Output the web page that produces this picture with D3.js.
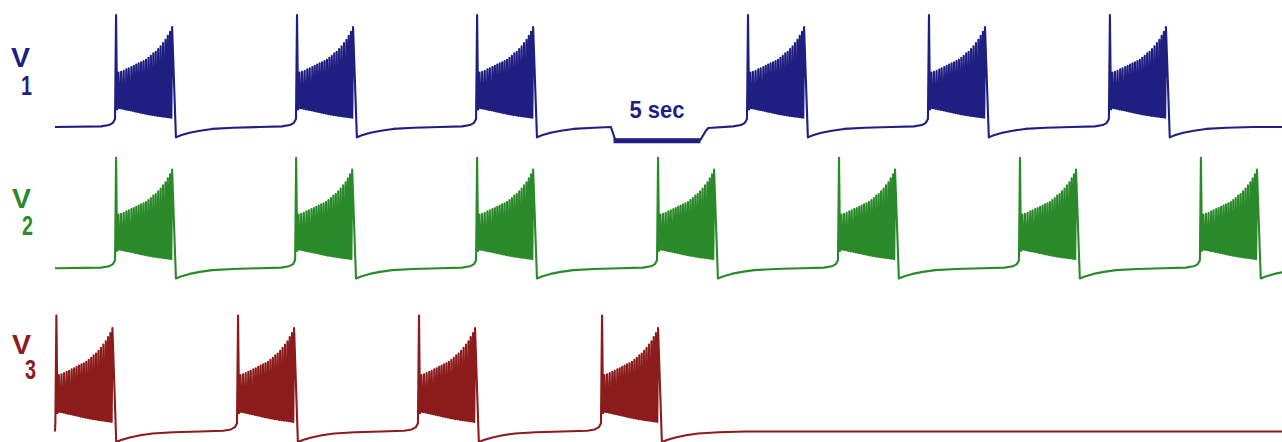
<!DOCTYPE html>
<html>
<head>
<meta charset="utf-8">
<script src="https://cdn.jsdelivr.net/npm/d3@7"></script>
<style>
  html, body { margin: 0; padding: 0; background: #fff; }
  svg { display: block; }
</style>
</head>
<body>
<svg id="chart" width="1282" height="442"></svg>
<script>
// ---- data -------------------------------------------------------------
// recorded cells
const traceNames = ["V", "V", "V"];
const traceSubscripts = ["1", "2", "3"];

// burst onset times (s) of each cell
const burstOnsetsV1 = [3.45, 13.85, 24.2, 39.77, 50.17, 60.57];
const burstOnsetsV2 = [3.45, 13.8, 24.2, 34.6, 45.0, 55.4, 65.8];
const burstOnsetsV3 = [0.02, 10.46, 20.86, 31.38];

// leading spike of every burst: offset (s) from onset and potentials (mV)
const leadSpikeOffset = 0.06;
const leadSpikePeak = 15;
const leadSpikeTrough = -44;

// spike train that follows: offsets (s) from onset, peaks and troughs (mV)
const spikeOffsets = [0.20, 0.35, 0.50, 0.65, 0.79, 0.94, 1.08, 1.22, 1.36, 1.50, 1.64, 1.78,
                      1.92, 2.06, 2.20, 2.34, 2.48, 2.62, 2.76, 2.90, 3.03, 3.16, 3.28];
const spikePeaks   = [-21, -20.5, -19.8, -19, -18.3, -17.5, -16.8, -16, -15.2, -14.5, -13.8, -13,
                      -11.8, -10.5, -9, -8, -6.3, -4.5, -2.5, -0.5, 2, 4.5, 7.5];
const spikeTroughs = [-43, -43.3, -43.6, -44, -44.3, -44.6, -45, -45.3, -45.6, -46, -46.3, -46.6,
                      -47, -47.2, -47.5, -47.7, -48, -48.2, -48.4, -48.6, -48.8, -49, -49.2];

// after-hyperpolarisation: offsets (s) from the last spike and potentials (mV)
const afterOffsets = [0.22, 0.5, 1.0, 1.6, 2.3, 3.5, 5.0];
const afterPotentials = [-61.5, -60.2, -58.6, -57.3, -56.2, -55.5, -55.0];

// slow depolarisation before a burst: offsets (s) from onset and potentials (mV)
const preOffsets = [-0.8, -0.35, -0.12, 0];
const prePotentials = [-54.6, -53.8, -52.4, -50];

// resting potential (mV) and recording window (s)
const restPotential = -55;
const timeWindow = [0, 70.52];
const voltageWindow = [-65, 25];

// time scale bar
const scaleBarStart = 32.1;
const scaleBarLength = 5;
const scaleBarPotential = -63;
const scaleBarLabel = "5 sec";

// ---- layout -----------------------------------------------------------
const width = 1282, height = 442;
const plotLeft = 55, plotRight = 1282;
const rows = [
  { onsets: burstOnsetsV1, color: "#1f1f82", yRange: [143, -1], label: { vx: 11, vy: 67, sx: 21, sy: 95 } },
  { onsets: burstOnsetsV2, color: "#2a8a2a", yRange: [284, 142], label: { vx: 12, vy: 208, sx: 22, sy: 235 } },
  { onsets: burstOnsetsV3, color: "#8c1b1b", yRange: [448, 299], label: { vx: 12, vy: 354, sx: 25, sy: 379 } }
];

const svg = d3.select("#chart");
const x = d3.scaleLinear().domain(timeWindow).range([plotLeft, plotRight]);

svg.append("defs").append("clipPath").attr("id", "plot-clip")
  .append("rect").attr("x", plotLeft - 2).attr("y", 0).attr("width", plotRight - plotLeft + 2).attr("height", height);

// assemble the membrane potential of one cell from its burst onsets
function buildTrace(onsets) {
  const pts = [[timeWindow[0], restPotential]];
  const last = () => pts[pts.length - 1][0];
  const n = spikeOffsets.length;
  onsets.forEach((on, k) => {
    preOffsets.forEach((o, i) => {
      const t = on + o;
      if (t > last()) pts.push([t, prePotentials[i]]);
    });
    pts.push([on + leadSpikeOffset, leadSpikePeak]);
    pts.push([on + leadSpikeOffset + 0.06, leadSpikeTrough]);
    spikeOffsets.forEach((o, i) => {
      pts.push([on + o - 0.045, spikeTroughs[i]]);
      pts.push([on + o, spikePeaks[i]]);
      if (i < n - 1) pts.push([on + o + 0.045, spikeTroughs[i]]);
    });
    const end = on + spikeOffsets[n - 1];
    const next = k + 1 < onsets.length ? onsets[k + 1] + preOffsets[0] : Infinity;
    afterOffsets.forEach((o, i) => {
      const t = end + o;
      if (t < next) pts.push([t, afterPotentials[i]]);
    });
  });
  if (last() < timeWindow[1]) pts.push([timeWindow[1], pts[pts.length - 1][1]]);
  return pts;
}

// the first cell's trace carries the time scale bar in its quiet gap
function addScaleBarDip(pts) {
  const a = scaleBarStart, b = scaleBarStart + scaleBarLength;
  const kept = pts.filter(p => p[0] < a - 0.15 || p[0] > b + 0.45);
  kept.push([a - 0.15, restPotential], [a + 0.1, scaleBarPotential], [b, scaleBarPotential],
            [b + 0.3, -57.5], [b + 0.45, -55.6]);
  return kept.sort((p, q) => p[0] - q[0]);
}

rows.forEach((row, r) => {
  const y = d3.scaleLinear().domain(voltageWindow).range(row.yRange);
  let pts = buildTrace(row.onsets);
  if (r === 0) pts = addScaleBarDip(pts);

  const line = d3.line().x(d => x(d[0])).y(d => y(d[1]));
  svg.append("path")
    .datum(pts)
    .attr("clip-path", "url(#plot-clip)")
    .attr("d", line)
    .attr("fill", "none")
    .attr("stroke", row.color)
    .attr("stroke-width", 2.1)
    .attr("stroke-linejoin", "round");

  // cell label
  const g = svg.append("g").attr("fill", row.color)
    .attr("font-family", "'Liberation Sans', Arial, sans-serif").attr("font-weight", "bold");
  g.append("text").attr("x", row.label.vx).attr("y", row.label.vy)
    .attr("font-size", 27).attr("textLength", 19).attr("lengthAdjust", "spacingAndGlyphs")
    .text(traceNames[r]);
  g.append("text").attr("x", row.label.sx).attr("y", row.label.sy)
    .attr("font-size", 27).attr("textLength", 11).attr("lengthAdjust", "spacingAndGlyphs")
    .text(traceSubscripts[r]);

  if (r === 0) {
    svg.append("line")
      .attr("x1", x(scaleBarStart)).attr("x2", x(scaleBarStart + scaleBarLength))
      .attr("y1", y(scaleBarPotential) + 1).attr("y2", y(scaleBarPotential) + 1)
      .attr("stroke", row.color).attr("stroke-width", 5);
    svg.append("text")
      .attr("x", x(scaleBarStart + scaleBarLength / 2)).attr("y", 118)
      .attr("text-anchor", "middle")
      .attr("font-family", "'Liberation Sans', Arial, sans-serif").attr("font-weight", "bold")
      .attr("font-size", 24).attr("textLength", 55).attr("lengthAdjust", "spacingAndGlyphs")
      .attr("fill", row.color)
      .text(scaleBarLabel);
  }
});
</script>
</body>
</html>
